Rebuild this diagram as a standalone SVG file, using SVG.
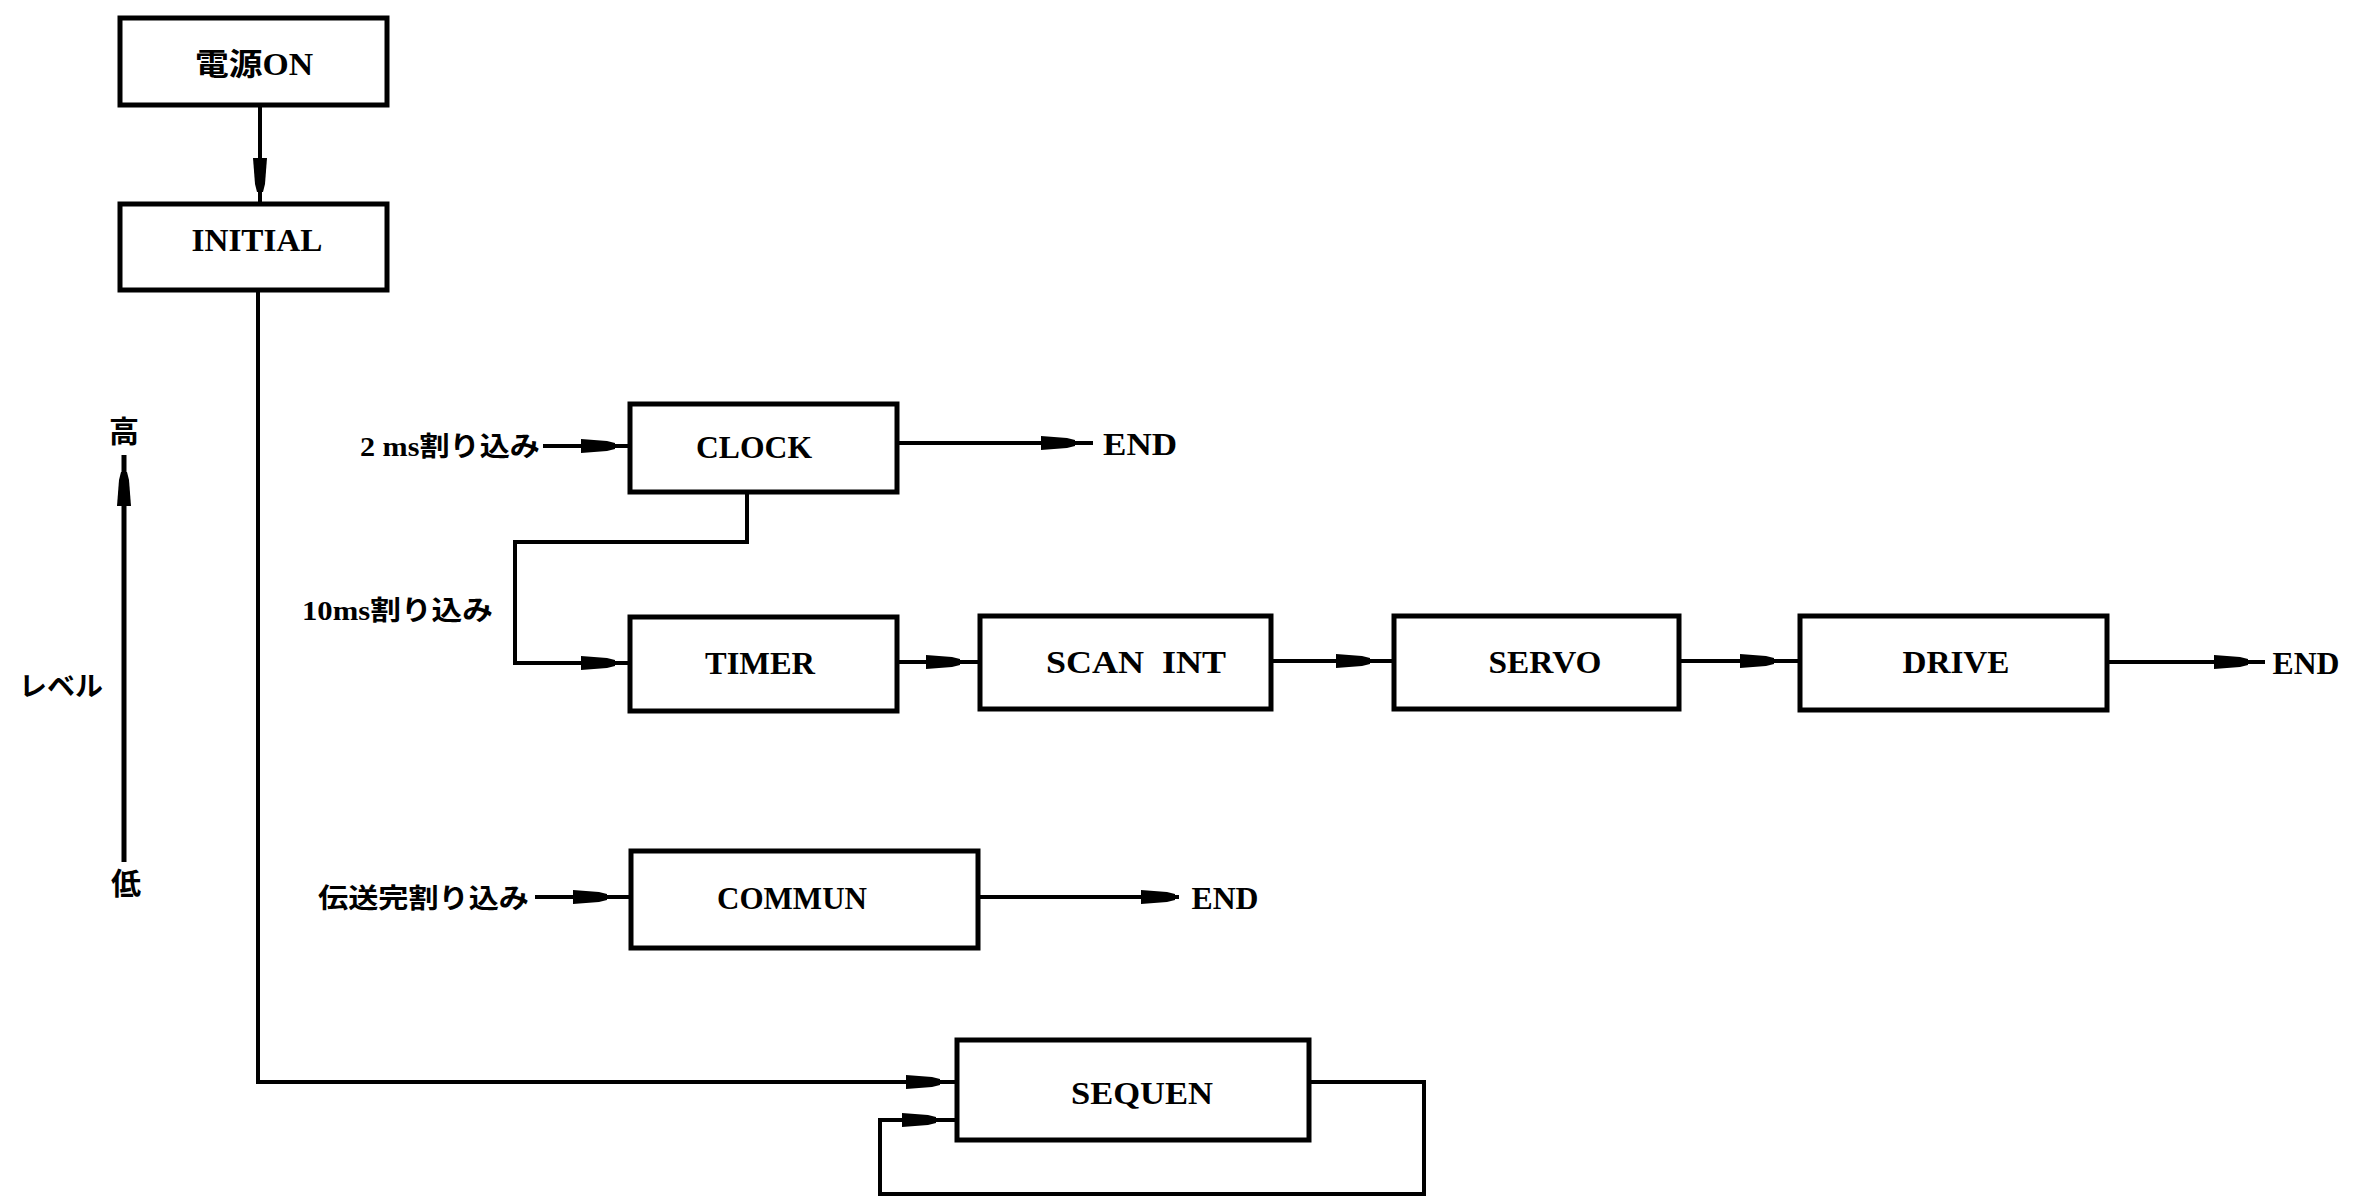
<svg xmlns="http://www.w3.org/2000/svg" xmlns:xlink="http://www.w3.org/1999/xlink" width="2353" height="1196" viewBox="0 0 2353 1196">
<style>
.box{fill:#fff;stroke:#000;stroke-width:5}
.ln{fill:none;stroke:#000;stroke-width:4;stroke-linejoin:miter}
.t{font-family:"Liberation Serif","Noto Sans CJK JP",serif;font-weight:bold;font-size:31px;fill:#000;text-anchor:middle}
.lbl{font-family:"Liberation Serif","Noto Sans CJK JP",serif;font-weight:bold;font-size:27px;fill:#000}
.ah{fill:#000}
</style>
<defs>
<path id="ah" class="ah" d="M0,-3 L-8,-5 L-34,-7 L-34,7 L-8,5 L0,3 Z"/>
</defs>
<rect width="2353" height="1196" fill="#fff"/>
<g id="connectors">
<path class="ln" d="M260,105 V204"/>
<path class="ln" d="M258,290 V1082 H957"/>
<path class="ln" d="M543,446 H630"/>
<path class="ln" d="M897,443 H1093"/>
<path class="ln" d="M747,492 V542 H515 V663 H630"/>
<path class="ln" d="M897,662 H980"/>
<path class="ln" d="M1271,661 H1394"/>
<path class="ln" d="M1679,661 H1800"/>
<path class="ln" d="M2107,662 H2265"/>
<path class="ln" d="M535,897 H631"/>
<path class="ln" d="M978,897 H1179"/>
<path class="ln" d="M1309,1082 H1424 V1194 H880 V1120 H957"/>
<path class="ln" d="M124,455 V862" style="stroke-width:5"/>
<use xlink:href="#ah" transform="translate(260,192) rotate(90)"/>
<use xlink:href="#ah" transform="translate(124,472) rotate(-90)"/>
<use xlink:href="#ah" transform="translate(615,446)"/>
<use xlink:href="#ah" transform="translate(1075,443)"/>
<use xlink:href="#ah" transform="translate(615,663)"/>
<use xlink:href="#ah" transform="translate(960,662)"/>
<use xlink:href="#ah" transform="translate(1370,661)"/>
<use xlink:href="#ah" transform="translate(1774,661)"/>
<use xlink:href="#ah" transform="translate(2248,662)"/>
<use xlink:href="#ah" transform="translate(607,897)"/>
<use xlink:href="#ah" transform="translate(1175,897)"/>
<use xlink:href="#ah" transform="translate(940,1082)"/>
<use xlink:href="#ah" transform="translate(936,1120)"/>
</g>
<g id="power-on"><rect class="box" x="120" y="18" width="267" height="87"/><text class="t" x="254" y="75" textLength="118" lengthAdjust="spacingAndGlyphs">電源ON</text></g>
<g id="initial"><rect class="box" x="120" y="204" width="267" height="86"/><text class="t" x="257" y="251" textLength="131" lengthAdjust="spacingAndGlyphs">INITIAL</text></g>
<g id="clock"><rect class="box" x="630" y="404" width="267" height="88"/><text class="t" x="754" y="458" textLength="116" lengthAdjust="spacingAndGlyphs">CLOCK</text></g>
<g id="timer"><rect class="box" x="630" y="617" width="267" height="94"/><text class="t" x="760" y="674" textLength="110" lengthAdjust="spacingAndGlyphs">TIMER</text></g>
<g id="scan-int"><rect class="box" x="980" y="616" width="291" height="93"/><text class="t" x="1136" y="673" textLength="180" lengthAdjust="spacingAndGlyphs" style="white-space:pre">SCAN  INT</text></g>
<g id="servo"><rect class="box" x="1394" y="616" width="285" height="93"/><text class="t" x="1545" y="673" textLength="113" lengthAdjust="spacingAndGlyphs">SERVO</text></g>
<g id="drive"><rect class="box" x="1800" y="616" width="307" height="94"/><text class="t" x="1956" y="673" textLength="107" lengthAdjust="spacingAndGlyphs">DRIVE</text></g>
<g id="commun"><rect class="box" x="631" y="851" width="347" height="97"/><text class="t" x="792" y="909" textLength="150" lengthAdjust="spacingAndGlyphs">COMMUN</text></g>
<g id="sequen"><rect class="box" x="957" y="1040" width="352" height="100"/><text class="t" x="1142" y="1104" textLength="142" lengthAdjust="spacingAndGlyphs">SEQUEN</text></g>
<g id="end-clock"><text class="t" x="1140" y="455" textLength="74" lengthAdjust="spacingAndGlyphs">END</text></g>
<g id="end-drive"><text class="t" x="2306" y="674" textLength="67" lengthAdjust="spacingAndGlyphs">END</text></g>
<g id="end-commun"><text class="t" x="1225" y="909" textLength="67" lengthAdjust="spacingAndGlyphs">END</text></g>
<g id="labels">
<text class="lbl" x="360" y="456" textLength="180" lengthAdjust="spacingAndGlyphs">2 ms割り込み</text>
<text class="lbl" x="302" y="620" textLength="191" lengthAdjust="spacingAndGlyphs">10ms割り込み</text>
<text class="lbl" x="318" y="908" textLength="211" lengthAdjust="spacingAndGlyphs">伝送完割り込み</text>
<text class="lbl" x="109" y="442" style="font-size:30px">高</text>
<text class="lbl" x="111" y="894" style="font-size:30px">低</text>
<text class="lbl" x="19" y="696" textLength="84" lengthAdjust="spacingAndGlyphs">レベル</text>
</g>
</svg>
